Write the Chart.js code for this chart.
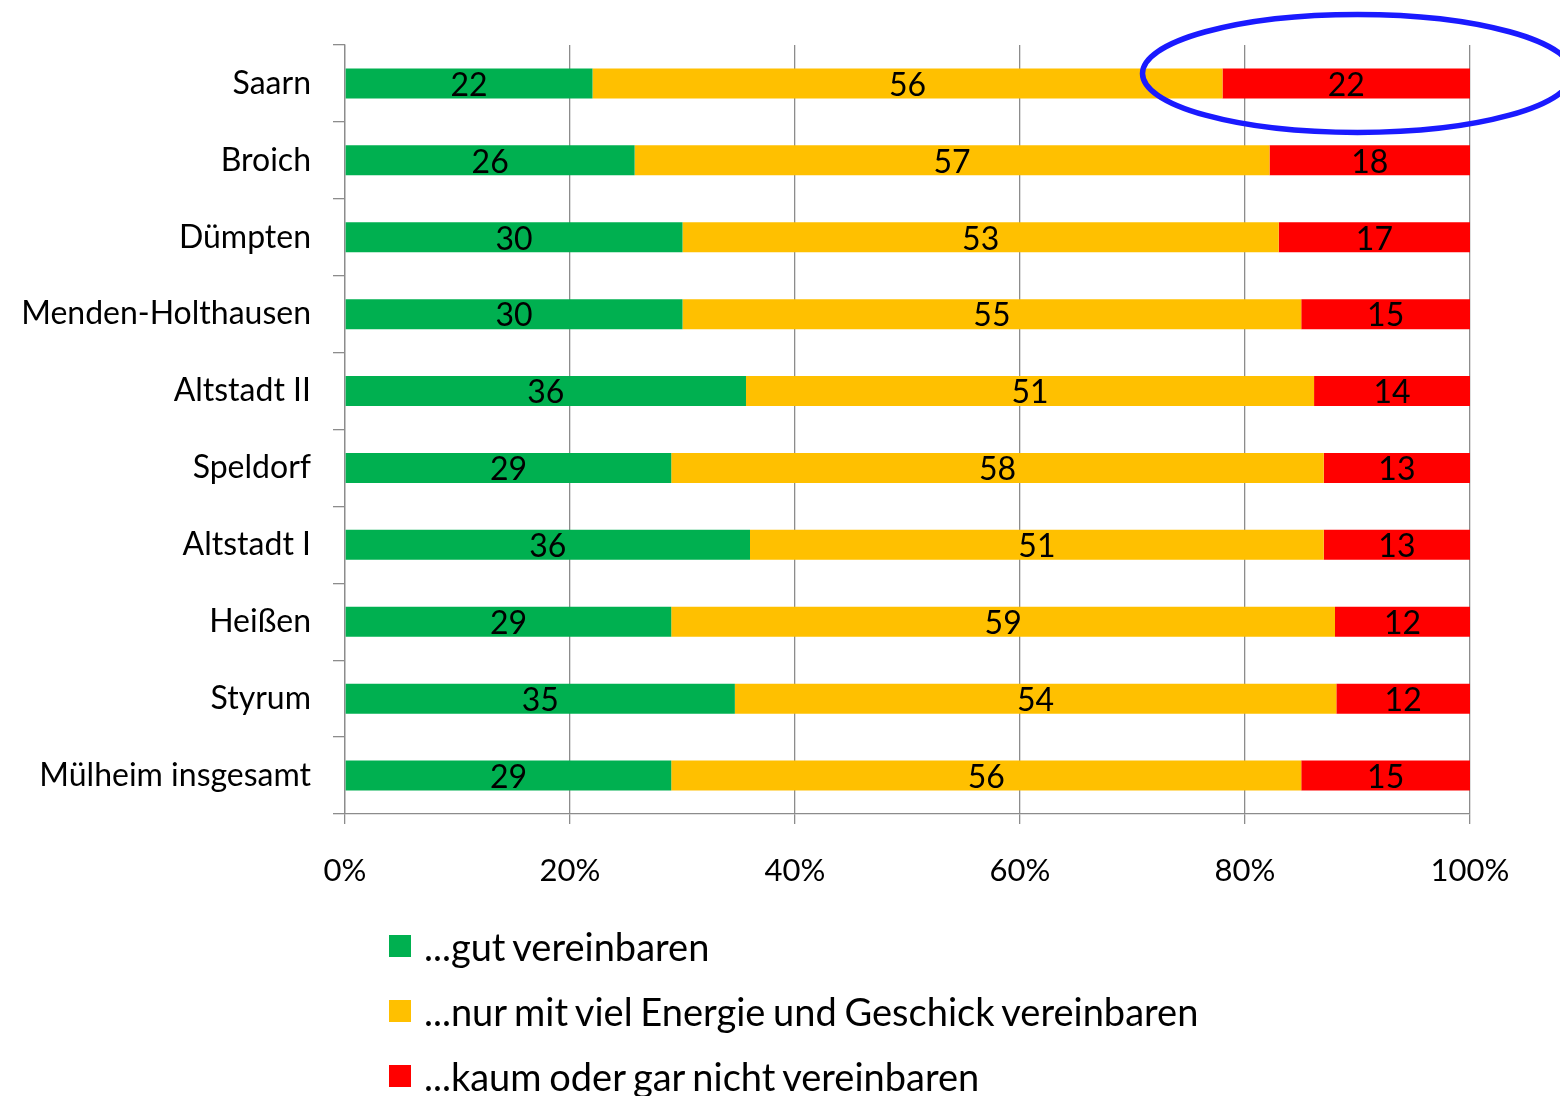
<!DOCTYPE html>
<html>
<head>
<meta charset="utf-8">
<script src="https://cdn.jsdelivr.net/npm/chart.js@4"></script>
<style>
    body { margin: 0; background: #fff; }
    #wrap { position: relative; width: 1560px; height: 1096px; }
    #legend { position: absolute; left: 389px; top: 913px; font-family: Lato, sans-serif; font-size: 38px; word-spacing: -2px; color: #000; }
    .item { display: flex; align-items: center; height: 65px; }
    .box { width: 22px; height: 22px; margin-right: 13px; }
</style>
</head>
<body>
<div id="wrap">
    <canvas id="chart" width="1560" height="1096"></canvas>
    <div id="legend"></div>
</div>
<script>
const categories = ['Saarn', 'Broich', 'Dümpten', 'Menden-Holthausen', 'Altstadt II', 'Speldorf', 'Altstadt I', 'Heißen', 'Styrum', 'Mülheim insgesamt'];
const seriesNames = ['...gut vereinbaren', '...nur mit viel Energie und Geschick vereinbaren', '...kaum oder gar nicht vereinbaren'];
const gut = [22, 26, 30, 30, 36, 29, 36, 29, 35, 29];
const mittel = [56, 57, 53, 55, 51, 58, 51, 59, 54, 56];
const kaum = [22, 18, 17, 15, 14, 13, 13, 12, 12, 15];
const xTicks = [0, 20, 40, 60, 80, 100];
const colors = ['#00B050', '#FFC000', '#FF0000'];

const FONT = 'Lato, sans-serif';
const raw = [gut, mittel, kaum];
const totals = categories.map((_, i) => gut[i] + mittel[i] + kaum[i]);

// 100% stacked: each segment is its share of the row total
const datasets = raw.map((arr, d) => ({
    label: seriesNames[d],
    data: arr.map((v, i) => v / totals[i] * 100),
    backgroundColor: colors[d],
    borderWidth: 0,
    barPercentage: 0.78,
    categoryPercentage: 0.5
}));

const valueLabels = {
    id: 'valueLabels',
    afterDatasetsDraw(chart) {
        const ctx = chart.ctx;
        ctx.save();
        ctx.font = `32px ${FONT}`;
        ctx.fillStyle = '#000';
        ctx.textAlign = 'center';
        ctx.textBaseline = 'middle';
        chart.data.datasets.forEach((ds, d) => {
            chart.getDatasetMeta(d).data.forEach((bar, i) => {
                ctx.fillText(raw[d][i], (bar.x + bar.base) / 2, bar.y + 2);
            });
        });
        ctx.restore();
    }
};

// blue hand-drawn style ellipse around the Saarn result
const highlight = {
    id: 'highlight',
    afterDraw(chart) {
        const x = chart.scales.x, y = chart.scales.y;
        const ctx = chart.ctx;
        ctx.save();
        ctx.strokeStyle = '#1a1aff';
        ctx.lineWidth = 5.5;
        ctx.beginPath();
        ctx.ellipse(x.getPixelForValue(90), y.getPixelForValue(0) - 10, 215, 59, 0, 0, Math.PI * 2);
        ctx.stroke();
        ctx.restore();
    }
};

new Chart(document.getElementById('chart'), {
    type: 'bar',
    data: { labels: categories, datasets: datasets },
    options: {
        indexAxis: 'y',
        responsive: false,
        animation: false,
        layout: { padding: { top: 45, right: 90, bottom: 182, left: 0 } },
        plugins: { legend: { display: false }, tooltip: { enabled: false } },
        scales: {
            x: {
                stacked: true,
                min: 0,
                max: 100,
                afterBuildTicks: (s) => { s.ticks = xTicks.map(v => ({ value: v })); },
                afterFit: (s) => { s.height = 100; },
                ticks: { callback: v => v + '%', color: '#000', font: { family: FONT, size: 31 }, padding: 28 },
                grid: { color: '#8c8c8c', lineWidth: 1.3, tickLength: 10 },
                border: { color: '#8c8c8c', width: 1.3 }
            },
            y: {
                stacked: true,
                afterFit: (s) => { s.width = 345; },
                ticks: { color: '#000', font: { family: FONT, size: 32 }, padding: 22 },
                grid: { offset: true, drawOnChartArea: false, color: '#8c8c8c', lineWidth: 1.3, tickLength: 12 },
                border: { color: '#8c8c8c', width: 1.3 }
            }
        }
    },
    plugins: [valueLabels, highlight]
});

const legend = document.getElementById('legend');
seriesNames.forEach((name, d) => {
    const item = document.createElement('div');
    item.className = 'item';
    item.innerHTML = `<span class="box" style="background:${colors[d]}"></span><span>${name}</span>`;
    legend.appendChild(item);
});
</script>
</body>
</html>
